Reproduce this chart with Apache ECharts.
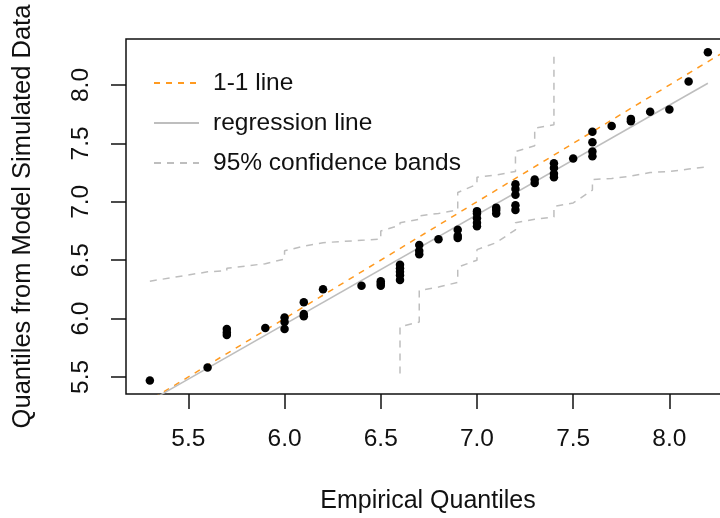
<!DOCTYPE html>
<html>
<head>
<meta charset="utf-8">
<script src="https://cdn.jsdelivr.net/npm/echarts@6/dist/echarts.min.js"></script>
<style>
html,body{margin:0;padding:0;background:#fff;}
#chart{width:720px;height:518px;}
</style>
</head>
<body>
<div id="chart"></div>
<script>
// Empirical quantiles (x) and model-simulated quantiles (y)
var empX = [5.3, 5.6, 5.7, 5.7, 5.7, 5.9, 6.0, 6.0, 6.0, 6.1, 6.1, 6.1, 6.2, 6.4,
  6.5, 6.5, 6.5, 6.6, 6.6, 6.6, 6.6, 6.6, 6.7, 6.7, 6.7, 6.8, 6.9, 6.9, 6.9,
  7.0, 7.0, 7.0, 7.0, 7.0, 7.1, 7.1, 7.1, 7.2, 7.2, 7.2, 7.2, 7.2, 7.3, 7.3,
  7.4, 7.4, 7.4, 7.4, 7.5, 7.6, 7.6, 7.6, 7.6, 7.7, 7.8, 7.8, 7.9, 8.0, 8.1, 8.2];
var simY = [5.47, 5.58, 5.86, 5.88, 5.91, 5.92, 5.91, 5.97, 6.01, 6.02, 6.04, 6.14, 6.25, 6.28,
  6.28, 6.30, 6.32, 6.33, 6.37, 6.40, 6.43, 6.46, 6.55, 6.58, 6.63, 6.68, 6.69, 6.71, 6.76,
  6.79, 6.82, 6.86, 6.90, 6.92, 6.90, 6.93, 6.95, 6.93, 6.97, 7.06, 7.11, 7.15, 7.16, 7.19,
  7.21, 7.24, 7.29, 7.33, 7.37, 7.39, 7.43, 7.51, 7.60, 7.65, 7.69, 7.71, 7.77, 7.79, 8.03, 8.28];

// 1-1 line ends
var oneLine = [5.0, 8.5];
// regression line end points
var regX = [5.3, 8.2];
var regY = [5.294, 8.015];

// 95% confidence bands (step-like vertices)
var upX = [5.3, 5.6, 5.7, 5.7, 5.9, 6.0, 6.0, 6.1, 6.2, 6.4, 6.5, 6.5, 6.6, 6.6, 6.7, 6.7, 6.8, 6.9, 6.9, 7.0, 7.0, 7.1, 7.2, 7.2, 7.3, 7.3, 7.4, 7.4];
var upY = [6.32, 6.40, 6.41, 6.43, 6.47, 6.51, 6.58, 6.62, 6.65, 6.67, 6.68, 6.75, 6.80, 6.82, 6.85, 6.88, 6.90, 6.93, 7.08, 7.15, 7.21, 7.23, 7.26, 7.43, 7.48, 7.63, 7.66, 8.29];
var loX = [6.6, 6.6, 6.7, 6.7, 6.8, 6.9, 6.9, 7.0, 7.0, 7.1, 7.2, 7.2, 7.3, 7.4, 7.4, 7.5, 7.6, 7.6, 7.7, 7.8, 7.9, 8.0, 8.1, 8.2];
var loY = [5.53, 5.93, 5.97, 6.24, 6.27, 6.31, 6.44, 6.50, 6.59, 6.65, 6.76, 6.82, 6.85, 6.87, 6.96, 6.99, 7.10, 7.19, 7.20, 7.22, 7.25, 7.26, 7.28, 7.30];

var xTicks = [5.5, 6.0, 6.5, 7.0, 7.5, 8.0];
var yTicks = [5.5, 6.0, 6.5, 7.0, 7.5, 8.0];

function zip(a, b) { return a.map(function (v, i) { return [v, b[i]]; }); }

var FONT = 'Liberation Sans';
var ORANGE = '#FF9A20';
var GRAY = '#BEBEBE';

var chart = echarts.init(document.getElementById('chart'), null, {renderer: 'canvas'});
chart.setOption({
  animation: false,
  backgroundColor: '#fff',
  grid: {left: 126, top: 39, width: 604, height: 355, outerBoundsMode: 'none', containLabel: false,
    show: true, borderColor: '#111', borderWidth: 1.5, backgroundColor: 'transparent'},
  xAxis: {
    type: 'value', min: 5.176, max: 8.315,
    name: 'Empirical Quantiles', nameLocation: 'middle', nameGap: 95,
    nameTextStyle: {fontFamily: FONT, fontSize: 25, color: '#111'},
    axisLine: {show: false},
    splitLine: {show: false},
    axisTick: {show: true, length: 15, customValues: xTicks, lineStyle: {color: '#111', width: 1.5}},
    axisLabel: {customValues: xTicks, margin: 33, fontFamily: FONT, fontSize: 24.5, color: '#111',
      formatter: function (v) { return v.toFixed(1); }}
  },
  yAxis: {
    type: 'value', min: 5.354, max: 8.394,
    name: 'Quantiles from Model Simulated Data', nameLocation: 'middle', nameGap: 90, nameRotate: 90,
    nameTextStyle: {fontFamily: FONT, fontSize: 25.5, color: '#111'},
    axisLine: {show: false},
    splitLine: {show: false},
    axisTick: {show: true, length: 15, customValues: yTicks, lineStyle: {color: '#111', width: 1.5}},
    axisLabel: {customValues: yTicks, margin: 32, rotate: 90, fontFamily: FONT, fontSize: 24.5, color: '#111',
      formatter: function (v) { return v.toFixed(1); }}
  },
  legend: {
    orient: 'vertical', left: 148, top: 65, itemWidth: 45, itemHeight: 14, itemGap: 14,
    data: ['1-1 line', 'regression line', '95% confidence bands'],
    itemStyle: {opacity: 0},
    textStyle: {fontFamily: FONT, fontSize: 24.5, color: '#111', lineHeight: 26, padding: [0, 0, 0, 9]}
  },
  series: [
    {type: 'line', name: '1-1 line', data: zip(oneLine, oneLine), symbol: 'none', clip: true,
      lineStyle: {color: ORANGE, width: 1.5, type: [6, 6]}, itemStyle: {color: ORANGE}},
    {type: 'line', name: 'regression line', data: zip(regX, regY), symbol: 'none', clip: true,
      lineStyle: {color: GRAY, width: 1.5, type: 'solid'}, itemStyle: {color: GRAY}},
    {type: 'line', name: '95% confidence bands', data: zip(upX, upY), symbol: 'none', clip: true,
      lineStyle: {color: GRAY, width: 1.5, type: [7, 6]}, itemStyle: {color: GRAY}},
    {type: 'line', name: '95% confidence bands', data: zip(loX, loY), symbol: 'none', clip: true,
      lineStyle: {color: GRAY, width: 1.5, type: [7, 6]}, itemStyle: {color: GRAY}},
    {type: 'scatter', name: 'data', data: zip(empX, simY), symbol: 'circle', symbolSize: 8.5,
      itemStyle: {color: '#000', opacity: 1}, z: 5}
  ]
});
</script>
</body>
</html>
